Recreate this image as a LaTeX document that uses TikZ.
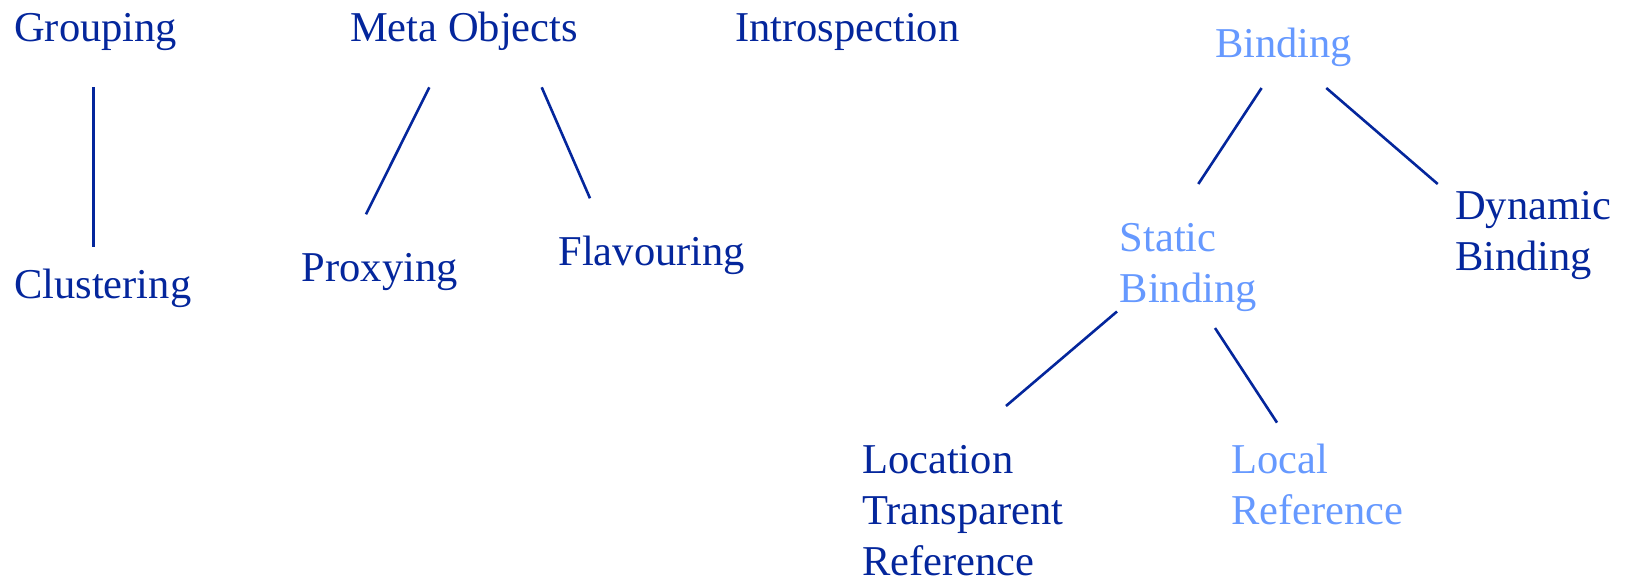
\documentclass[tikz,border=0pt]{standalone}
\usepackage{fontspec}
\setmainfont{Liberation Serif}
\definecolor{deepblue}{RGB}{4,38,156}
\definecolor{paleblue}{RGB}{102,153,255}
\begin{document}
\begin{tikzpicture}[x=1pt,y=-1pt,
  term/.style={anchor=base west,inner sep=0pt,align=left,text=deepblue,
    font=\fontsize{42.5}{50.8}\selectfont},
  soft/.style={term,text=paleblue},
  link/.style={draw=deepblue,line width=2.6pt}]
\useasboundingbox (0,0) rectangle (1628,583);

% top-level concepts
\node[term] (grouping) at (14,41.7) {Grouping};
\node[term] (meta) at (350,41.7) {Meta Objects};
\node[term] (intro) at (735,41.5) {Introspection};
\node[soft] (binding) at (1215,58) {Binding};

% second level (multi-line nodes are placed by their last baseline)
\node[term] (cluster) at (14,298.3) {Clustering};
\node[term] (proxy) at (301.7,281.7) {Proxying};
\node[term] (flavour) at (558.3,265.7) {Flavouring};
\node[soft] (static) at (1119.5,302.5) {Static\\Binding};
\node[term] (dynamic) at (1455,270.5) {Dynamic\\Binding};

% third level
\node[term] (locref) at (862,575) {Location\\Transparent\\Reference};
\node[soft] (localref) at (1231,524.3) {Local\\Reference};

% connector end points
\coordinate (g1) at (93.7,87.3);   \coordinate (g2) at (93.7,246.7);
\coordinate (m1) at (429.3,87.3);  \coordinate (m2) at (366,214.3);
\coordinate (m3) at (541.7,87.3);  \coordinate (m4) at (590,198.3);
\coordinate (b1) at (1261.6,88);   \coordinate (b2) at (1198.3,184);
\coordinate (b3) at (1326.3,88);   \coordinate (b4) at (1437.7,184);
\coordinate (s1) at (1117,311.5);  \coordinate (s2) at (1006,406);
\coordinate (s3) at (1215,328);    \coordinate (s4) at (1277,422.6);

\draw[link] (g1) -- (g2);
\draw[link] (m1) -- (m2);
\draw[link] (m3) -- (m4);
\draw[link] (b1) -- (b2);
\draw[link] (b3) -- (b4);
\draw[link] (s1) -- (s2);
\draw[link] (s3) -- (s4);
\end{tikzpicture}
\end{document}
